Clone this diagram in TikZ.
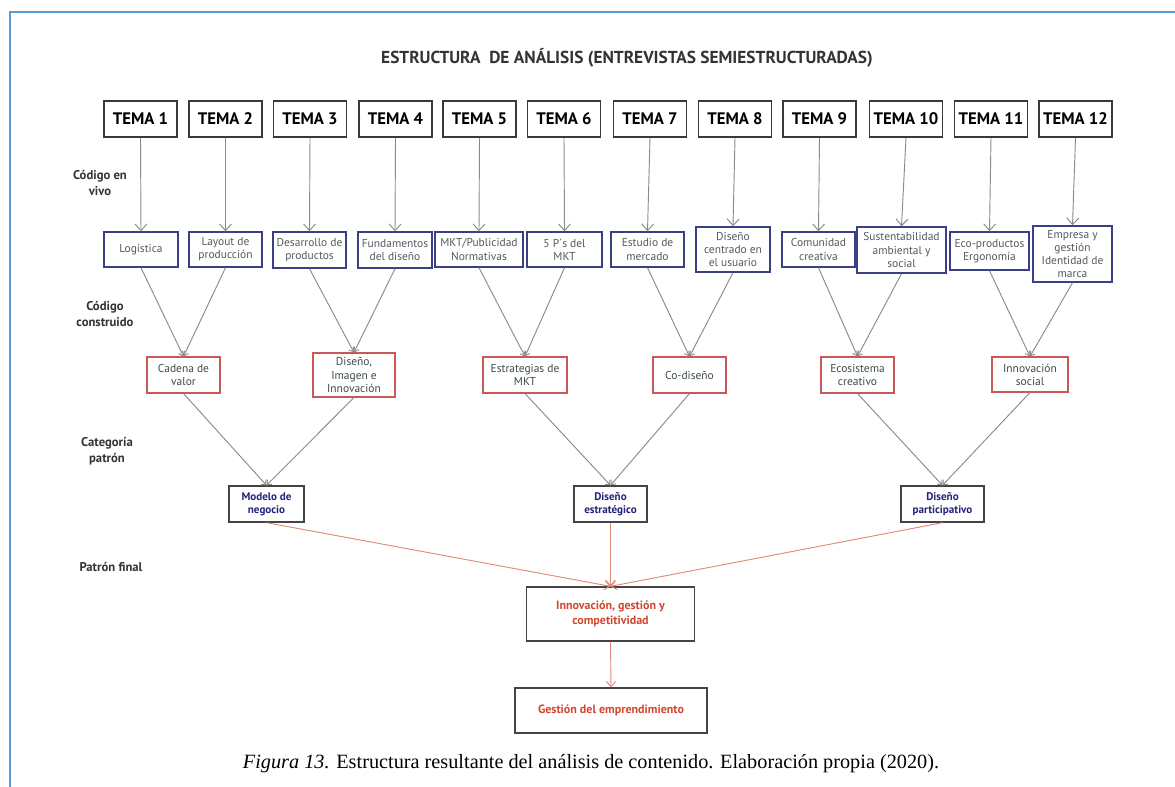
\documentclass[tikz,border=0pt]{standalone}
\usepackage{fontspec}
\setmainfont{PT Sans}
\newfontfamily\capfont{Liberation Serif}
\usetikzlibrary{arrows.meta}
\definecolor{framecol}{HTML}{5B9BD5}
\definecolor{temaline}{HTML}{3A3A3A}
\definecolor{codeline}{HTML}{3B3F86}
\definecolor{codetext}{HTML}{555860}
\definecolor{consline}{HTML}{C9585A}
\definecolor{constext}{HTML}{3D4A4A}
\definecolor{catline}{HTML}{444444}
\definecolor{cattext}{HTML}{23237A}
\definecolor{fintext}{HTML}{D2452E}
\definecolor{conn}{HTML}{8A8A8A}
\definecolor{finconn}{HTML}{E08A7A}
\definecolor{labeltext}{HTML}{333333}
\begin{document}
\begin{tikzpicture}[x=0.75pt,y=-0.75pt,
  sz/.style 2 args={minimum width=#1*0.75pt, minimum height=#2*0.75pt},
  tema/.style={draw=temaline, line width=1.3pt, inner sep=0pt,
    font=\fontsize{12.5}{14}\selectfont\bfseries},
  codebox/.style={draw=codeline, line width=1.1pt, inner sep=0pt, align=center,
    text=codetext, font=\fontsize{8.6}{9.8}\selectfont},
  consbox/.style={draw=consline, line width=0.8pt, inner sep=0pt, align=center,
    text=constext, font=\fontsize{8.6}{9.8}\selectfont},
  catbox/.style={draw=catline, line width=1pt, inner sep=0pt, align=center,
    text=cattext, font=\fontsize{8.3}{9.8}\selectfont\bfseries},
  finbox/.style={draw=catline, line width=1pt, inner sep=0pt, align=center,
    text=fintext, font=\fontsize{9}{11.3}\selectfont\bfseries},
  levellabel/.style={align=center, text=labeltext,
    font=\fontsize{9.5}{12}\selectfont\bfseries},
  tarrow/.style={draw=conn, line width=0.7pt,
    -{Straight Barb[length=5pt,width=9pt]}},
  garrow/.style={draw=conn, line width=0.7pt,
    -{Straight Barb[length=3pt,width=5pt]}},
  rarrow/.style={draw=finconn, line width=0.7pt,
    -{Straight Barb[length=4pt,width=7pt]}},
  frameline/.style={draw=framecol, line width=2pt}
]
\useasboundingbox (0,0) rectangle (1175,787);

% page frame
\draw[frameline] (10,800) -- (10,12) -- (1190,12);

% title
\node[font=\fontsize{13}{15}\selectfont\bfseries, text=labeltext] (title) at (627,58)
  {ESTRUCTURA\ \ DE ANÁLISIS (ENTREVISTAS SEMIESTRUCTURADAS)};

% level labels
\node[levellabel] (l1) at (100,183) {Código en\\vivo};
\node[levellabel] (l2) at (105,314) {Código\\construido};
\node[levellabel] (l3) at (107,451) {Categoría\\patrón};
\node[levellabel] (l4) at (111,567) {Patrón final};

% themes
\node[tema, sz={73}{36}] (t1)  at (140.5,119) {TEMA 1};
\node[tema, sz={73}{36}] (t2)  at (225.5,119) {TEMA 2};
\node[tema, sz={73}{36}] (t3)  at (310,119)   {TEMA 3};
\node[tema, sz={73}{36}] (t4)  at (395.5,119) {TEMA 4};
\node[tema, sz={73}{36}] (t5)  at (479.5,119) {TEMA 5};
\node[tema, sz={73}{36}] (t6)  at (564,119)   {TEMA 6};
\node[tema, sz={73}{36}] (t7)  at (650,119)   {TEMA 7};
\node[tema, sz={73}{36}] (t8)  at (735,119)   {TEMA 8};
\node[tema, sz={73}{36}] (t9)  at (819.5,119) {TEMA 9};
\node[tema, sz={73}{36}] (t10) at (906,119)   {TEMA 10};
\node[tema, sz={73}{36}] (t11) at (991,119)   {TEMA 11};
\node[tema, sz={73}{36}] (t12) at (1075.5,119){TEMA 12};

% live codes
\node[codebox, sz={74}{35}] (c1)  at (141,249.5)   {Logística};
\node[codebox, sz={73}{35}] (c2)  at (225.5,249.5) {Layout de\\producción};
\node[codebox, sz={73}{36}] (c3)  at (309.5,250)   {Desarrollo de\\productos};
\node[codebox, sz={74}{36}] (c4)  at (395,250)     {Fundamentos\\del diseño};
\node[codebox, sz={88}{35}] (c5)  at (479,249.5)   {MKT/Publicidad\\Normativas};
\node[codebox, sz={75}{35}] (c6)  at (564.5,249.5) {5 P´s del\\MKT};
\node[codebox, sz={73}{35}] (c7)  at (647.5,249.5) {Estudio de\\mercado};
\node[codebox, sz={74}{45}] (c8)  at (733,249.5)   {Diseño\\centrado en\\el usuario};
\node[codebox, sz={73}{35}] (c9)  at (818.5,249.5) {Comunidad\\creativa};
\node[codebox, sz={89}{46}] (c10) at (901.5,250)   {Sustentabilidad\\ambiental y\\social};
\node[codebox, sz={79}{38}] (c11) at (989.5,251)   {Eco-productos\\Ergonomía};
\node[codebox, sz={79}{56}] (c12) at (1072.5,254)  {Empresa y\\gestión\\Identidad de\\marca};

% built codes
\node[consbox, sz={73}{36}] (k1) at (183.5,375) {Cadena de\\valor};
\node[consbox, sz={82}{44}] (k2) at (354,375)   {Diseño,\\Imagen e\\Innovación};
\node[consbox, sz={84}{36}] (k3) at (525,375)   {Estrategias de\\MKT};
\node[consbox, sz={73}{36}] (k4) at (689.5,375) {Co-diseño};
\node[consbox, sz={73}{36}] (k5) at (857.5,375) {Ecosistema\\creativo};
\node[consbox, sz={76}{35}] (k6) at (1030,374.5){Innovación\\social};

% pattern categories
\node[catbox, sz={75}{36}] (m1) at (266.5,504) {Modelo de\\negocio};
\node[catbox, sz={73}{36}] (m2) at (610.5,504) {Diseño\\estratégico};
\node[catbox, sz={83}{36}] (m3) at (942.5,504) {Diseño\\participativo};

% final pattern
\node[finbox, sz={168}{54}] (f) at (610.5,614) {Innovación, gestión y\\competitividad};
\node[finbox, sz={192}{45}] (g) at (611,710.5) {Gestión del emprendimiento};

% caption
\node[font=\capfont\fontsize{15.2}{18}\selectfont] (cap) at (591,764)
  {\textit{Figura 13.} Estructura resultante del análisis de contenido. Elaboración propia (2020).};

% theme -> live code
\foreach \i in {1,...,12} \draw[tarrow] (t\i.south) -- (c\i.north);

% live code -> built code
\draw[garrow] (c1.south) -- (k1.north);
\draw[garrow] (c2.south) -- (k1.north);
\draw[garrow] (c3.south) -- (k2.north);
\draw[garrow] (c4.south) -- (k2.north);
\draw[garrow] (c5.south) -- (k3.north);
\draw[garrow] (c6.south) -- (k3.north);
\draw[garrow] (c7.south) -- (k4.north);
\draw[garrow] (c8.south) -- (k4.north);
\draw[garrow] (c9.south) -- (k5.north);
\draw[garrow] (c10.south) -- (k5.north);
\draw[garrow] (c11.south) -- (k6.north);
\draw[garrow] (c12.south) -- (k6.north);

% built code -> category
\draw[garrow] (k1.south) -- (m1.north);
\draw[garrow] (k2.south) -- (m1.north);
\draw[garrow] (k3.south) -- (m2.north);
\draw[garrow] (k4.south) -- (m2.north);
\draw[garrow] (k5.south) -- (m3.north);
\draw[garrow] (k6.south) -- (m3.north);

% category -> final pattern
\draw[rarrow] (m1.south) -- (f.north);
\draw[rarrow] (m2.south) -- (f.north);
\draw[rarrow] (m3.south) -- (f.north);
\draw[rarrow] (f.south) -- (g.north);
\end{tikzpicture}
\end{document}
